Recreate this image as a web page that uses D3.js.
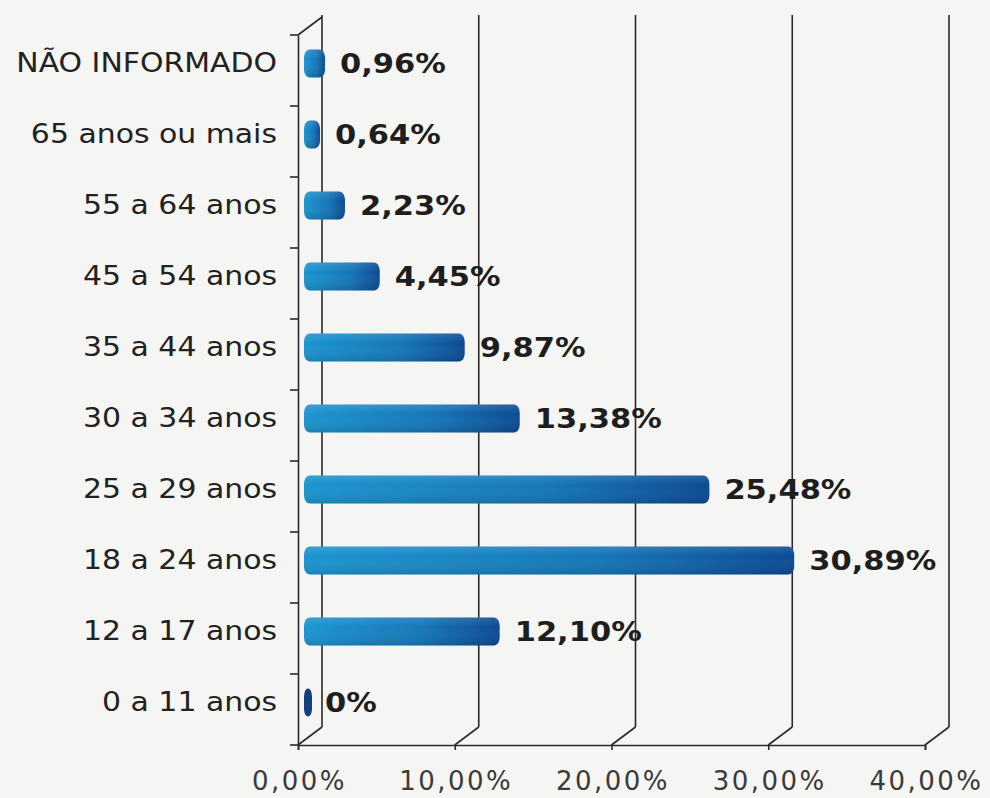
<!DOCTYPE html>
<html>
<head>
<meta charset="utf-8">
<script src="https://cdn.jsdelivr.net/npm/d3@7"></script>
<style>
  html, body { margin: 0; padding: 0; background: #f5f5f3; }
  svg { display: block; }
</style>
</head>
<body>
<svg id="chart" width="990" height="798"></svg>
<script>
const categories = ["NÃO INFORMADO", "65 anos ou mais", "55 a 64 anos", "45 a 54 anos", "35 a 44 anos",
                    "30 a 34 anos", "25 a 29 anos", "18 a 24 anos", "12 a 17 anos", "0 a 11 anos"];
const values = [0.96, 0.64, 2.23, 4.45, 9.87, 13.38, 25.48, 30.89, 12.10, 0];
const ticks = [0, 10, 20, 30, 40];
const tickLabels = ["0,00%", "10,00%", "20,00%", "30,00%", "40,00%"];

const svg = d3.select("#chart");
const W = 990, H = 798;
svg.append("rect").attr("width", W).attr("height", H).attr("fill", "#f5f5f3");

const x = d3.scaleLinear().domain([0, 40]).range([298, 925]);
const y = d3.scaleBand().domain(categories).range([35, 745]);
const depth = { dx: 24, dy: -18 };
const mid = { dx: 10, dy: -7 };
const lineColor = "#2a2a2a";

const defs = svg.append("defs");
const grad = defs.append("linearGradient").attr("id", "barGrad")
  .attr("x1", "0%").attr("x2", "100%").attr("y1", "0%").attr("y2", "0%");
grad.append("stop").attr("offset", "0%").attr("stop-color", "#1c95d0");
grad.append("stop").attr("offset", "60%").attr("stop-color", "#1677b8");
grad.append("stop").attr("offset", "100%").attr("stop-color", "#0c4a93");
const vgrad = defs.append("linearGradient").attr("id", "barShade")
  .attr("x1", "0%").attr("x2", "0%").attr("y1", "0%").attr("y2", "100%");
vgrad.append("stop").attr("offset", "0%").attr("stop-color", "#ffffff").attr("stop-opacity", 0.12);
vgrad.append("stop").attr("offset", "35%").attr("stop-color", "#ffffff").attr("stop-opacity", 0.0);
vgrad.append("stop").attr("offset", "100%").attr("stop-color", "#000000").attr("stop-opacity", 0.12);

// Back wall grid lines
const g = svg.append("g");
const yTop = y.range()[0], yBot = y.range()[1];
g.selectAll("line.grid").data(ticks).join("line")
  .attr("class", "grid")
  .attr("x1", d => x(d) + depth.dx).attr("x2", d => x(d) + depth.dx)
  .attr("y1", yTop + depth.dy - 2).attr("y2", yBot + depth.dy)
  .attr("stroke", lineColor).attr("stroke-width", 1.6);
// Floor diagonals
g.selectAll("line.diag").data(ticks).join("line")
  .attr("class", "diag")
  .attr("x1", d => x(d)).attr("y1", yBot)
  .attr("x2", d => x(d) + depth.dx).attr("y2", yBot + depth.dy)
  .attr("stroke", lineColor).attr("stroke-width", 1.6);
// Top-left diagonal
g.append("line")
  .attr("x1", x(0)).attr("y1", yTop)
  .attr("x2", x(0) + depth.dx).attr("y2", yTop + depth.dy)
  .attr("stroke", lineColor).attr("stroke-width", 1.6);

// Front axes
const xAxis = d3.axisBottom(x).tickValues(ticks).tickFormat((d, i) => tickLabels[i]).tickSize(5).tickPadding(22);
const xg = svg.append("g").attr("transform", `translate(0,${yBot})`).call(xAxis);
xg.select(".domain").attr("stroke", lineColor).attr("stroke-width", 1.6);
xg.selectAll(".tick line").attr("stroke", lineColor).attr("stroke-width", 1.6);
xg.selectAll(".tick text").attr("font-family", "DejaVu Sans, Verdana, sans-serif")
  .attr("font-size", 26).attr("letter-spacing", 2.5).attr("dx", 1).attr("fill", "#3a3a3a");

const yAxis = d3.axisLeft(y).tickSize(0).tickFormat("");
const yg = svg.append("g").attr("transform", `translate(${x(0)},0)`).call(yAxis);
yg.select(".domain").attr("stroke", lineColor).attr("stroke-width", 1.6);
// boundary ticks on left axis
const bounds = d3.range(categories.length + 1).map(i => yTop + i * y.bandwidth());
svg.append("g").selectAll("line").data(bounds).join("line")
  .attr("x1", x(0) - 8).attr("x2", x(0)).attr("y1", d => d).attr("y2", d => d)
  .attr("stroke", lineColor).attr("stroke-width", 1.6);

// Bars
const barH = 28;
const cy = c => y(c) + y.bandwidth() / 2 + mid.dy;
const bx = v => x(v) + mid.dx;
const bars = svg.append("g");
const data = categories.map((c, i) => ({ c, v: values[i] }));
bars.selectAll("rect.bar").data(data).join("rect")
  .attr("class", "bar")
  .attr("x", d => bx(0) - 4)
  .attr("y", d => cy(d.c) - barH / 2)
  .attr("width", d => Math.max(bx(d.v) - bx(0) + 6, 8))
  .attr("height", barH)
  .attr("rx", 6).attr("ry", 8)
  .attr("fill", d => d.v === 0 ? "#123f7d" : "url(#barGrad)");
bars.selectAll("rect.shade").data(data.filter(d => d.v > 0)).join("rect")
  .attr("class", "shade")
  .attr("x", d => bx(0) - 4)
  .attr("y", d => cy(d.c) - barH / 2)
  .attr("width", d => bx(d.v) - bx(0) + 6)
  .attr("height", barH)
  .attr("rx", 6).attr("ry", 8)
  .attr("fill", "url(#barShade)");

// Value labels
const fmt = v => v === 0 ? "0%" : v.toFixed(2).replace(".", ",") + "%";
svg.append("g").selectAll("text").data(data).join("text")
  .attr("transform", d => `translate(${bx(d.v) + 17},${cy(d.c)}) scale(1.13,1)`)
  .attr("dominant-baseline", "central")
  .attr("font-family", "DejaVu Sans, Verdana, sans-serif")
  .attr("font-weight", "bold")
  .attr("font-size", 27)
  .attr("fill", "#1e1e1e")
  .text(d => fmt(d.v));

// Category labels
svg.append("g").selectAll("text").data(data).join("text")
  .attr("transform", d => `translate(277,${cy(d.c)}) scale(1.15,1)`)
  .attr("text-anchor", "end")
  .attr("dominant-baseline", "central")
  .attr("font-family", "DejaVu Sans, Verdana, sans-serif")
  .attr("font-size", 26)
  .attr("fill", "#222")
  .text(d => d.c);
</script>
</body>
</html>
